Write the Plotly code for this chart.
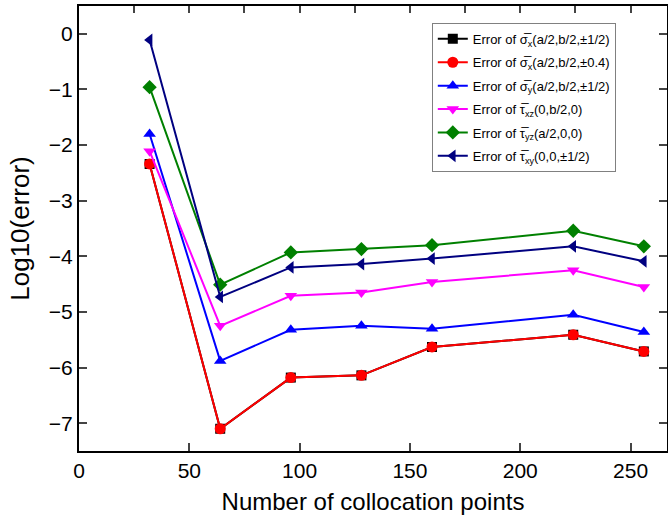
import plotly.graph_objects as go

points = [32, 64, 96, 128, 160, 224, 256]

sigma_x_half = [-2.34, -7.10, -6.18, -6.14, -5.63, -5.41, -5.71]
sigma_x_04 = [-2.34, -7.10, -6.18, -6.14, -5.63, -5.41, -5.71]
sigma_y_half = [-1.80, -5.88, -5.32, -5.25, -5.30, -5.05, -5.36]
tau_xz = [-2.11, -5.25, -4.71, -4.65, -4.46, -4.25, -4.55]
tau_yz = [-0.96, -4.51, -3.93, -3.87, -3.80, -3.54, -3.82]
tau_xy = [-0.11, -4.73, -4.20, -4.14, -4.04, -3.82, -4.09]

names = [
    "Error of σ\u0305<sub>x</sub>(a/2,b/2,±1/2)",
    "Error of σ\u0305<sub>x</sub>(a/2,b/2,±0.4)",
    "Error of σ\u0305<sub>y</sub>(a/2,b/2,±1/2)",
    "Error of τ\u0305<sub>xz</sub>(0,b/2,0)",
    "Error of τ\u0305<sub>yz</sub>(a/2,0,0)",
    "Error of τ\u0305<sub>xy</sub>(0,0,±1/2)",
]
series = [sigma_x_half, sigma_x_04, sigma_y_half, tau_xz, tau_yz, tau_xy]
colors = ["#000000", "#ff0000", "#0000ff", "#ff00ff", "#008000", "#000080"]
symbols = ["square", "circle", "triangle-up", "triangle-down", "diamond", "triangle-left"]
sizes = [10, 11, 11, 11, 11, 11]

fig = go.Figure()
for i, (nm, ys, c, s, sz) in enumerate(zip(names, series, colors, symbols, sizes)):
    fig.add_trace(go.Scatter(
        x=points, y=ys, name=nm, mode="lines+markers",
        legendgroup=f"g{i}",
        line=dict(color=c, width=2),
        marker=dict(symbol=s, size=sz, color=c),
    ))

# invisible trace to draw the top axis with its own ticks
fig.add_trace(go.Scatter(x=[], y=[], xaxis="x2", showlegend=False))

font_family = "Liberation Sans, Arial, sans-serif"
fig.update_layout(
    width=668, height=528,
    margin=dict(l=79, r=1, t=6, b=77, autoexpand=False),
    paper_bgcolor="white", plot_bgcolor="white",
    font=dict(family=font_family, color="black"),
    showlegend=True,
    legend=dict(
        x=0.600, y=0.962, xanchor="left", yanchor="top",
        bordercolor="#808080", borderwidth=1,
        font=dict(size=13, family=font_family),
        bgcolor="white", tracegroupgap=3.5, itemwidth=30,
    ),
    xaxis=dict(
        range=[0, 266.5], tickvals=[0, 50, 100, 150, 200, 250],
        ticks="inside", ticklen=8, tickwidth=1.5,
        showline=True, linecolor="black", linewidth=2,
        showgrid=False, zeroline=False, automargin=False,
        tickfont=dict(size=21),
        title=dict(text="Number of collocation points", font=dict(size=24), standoff=12),
    ),
    xaxis2=dict(
        overlaying="x", side="top", range=[0, 266.5],
        tickvals=[25, 50, 75, 100, 125, 150, 175, 200, 225, 250],
        ticks="inside", ticklen=7, tickwidth=1.5, showticklabels=False,
        showline=True, linecolor="black", linewidth=2,
        showgrid=False, zeroline=False, automargin=False,
    ),
    yaxis=dict(
        range=[-7.5, 0.5], tickvals=[0, -1, -2, -3, -4, -5, -6, -7],
        ticks="inside", ticklen=8, tickwidth=1.5,
        showline=True, linecolor="black", linewidth=2, mirror="ticks",
        showgrid=False, zeroline=False, automargin=False,
        tickfont=dict(size=21),
        title=dict(text="Log10(error)", font=dict(size=26), standoff=12),
    ),
)

fig.write_html(
    "out.html",
    config={"displayModeBar": False},
    post_script="document.body.style.margin='0';document.body.style.overflow='hidden';",
)
